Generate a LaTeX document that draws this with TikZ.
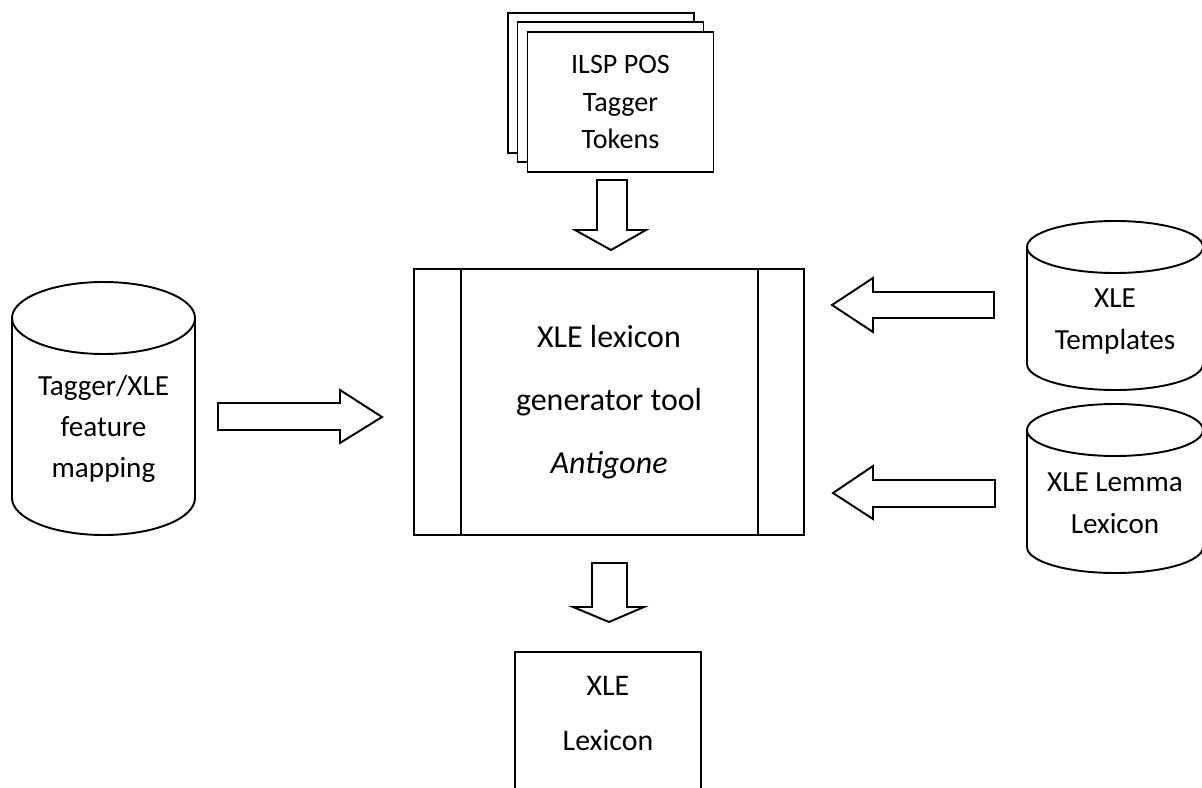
\documentclass[tikz,border=0pt]{standalone}
\usepackage{fontspec}
\setmainfont{Carlito}

\begin{document}
\begin{tikzpicture}[x=0.02cm,y=-0.02cm,line width=1.1pt,
    box/.style={draw,fill=white,rectangle},
    blockarrow/.style={draw,fill=white,line join=miter},
    dbtext/.style={align=center,inner sep=0pt,font=\fontsize{16.6}{23.8}\selectfont}]
    \clip (0,0) rectangle (1202,787);

    % token files (stack of pages)
    \begin{scope}[every node/.style={box,minimum width=3.72cm,minimum height=2.8cm}]
        \node (page3) at (601,83) {};
        \node (page2) at (610.5,92) {};
        \node[align=center,font=\fontsize{16}{21.5}\selectfont] (tokens) at (620.5,102)
            {ILSP POS\\Tagger\\Tokens};
    \end{scope}

    % generator tool
    \node[box,minimum width=7.8cm,minimum height=5.32cm,align=center,
          font=\fontsize{18.2}{35.7}\selectfont] (gen) at (609,402)
        {XLE lexicon\\generator tool\\\textit{Antigone}};
    \draw ([xshift=0.96cm]gen.north west) -- ([xshift=0.96cm]gen.south west);
    \draw ([xshift=-0.94cm]gen.north east) -- ([xshift=-0.94cm]gen.south east);

    % output lexicon
    \node[box,minimum width=3.72cm,minimum height=3cm] (lexbox) at (608,727) {};
    \node[align=center,inner sep=0pt,font=\fontsize{17}{31.2}\selectfont] (lex) at (608,713.5)
        {XLE\\Lexicon};

    % databases
    \draw (12,318) -- (12,498) arc[start angle=180,end angle=0,x radius=91.5,y radius=37] -- (195,318);
    \draw (103.5,318) ellipse [x radius=91.5,y radius=36];
    \node[dbtext,font=\fontsize{16.6}{23.2}\selectfont] (fmap) at (103.5,429)
        {Tagger/XLE\\feature\\mapping};

    \draw (1027,247) -- (1027,364) arc[start angle=180,end angle=0,x radius=88,y radius=26] -- (1203,247);
    \draw (1115,247) ellipse [x radius=88,y radius=26];
    \node[dbtext] (tmpl) at (1115,321.5) {XLE\\Templates};

    \draw (1027,430) -- (1027,547) arc[start angle=180,end angle=0,x radius=88,y radius=26] -- (1203,430);
    \draw (1115,430) ellipse [x radius=88,y radius=26];
    \node[dbtext] (lemma) at (1115,503) {XLE Lemma\\Lexicon};

    % block arrows
    \begin{scope}[every path/.style={blockarrow}]
        \draw (597,180) -- (627,180) -- (627,230) -- (646,230) -- (611,250) -- (575,230) -- (597,230) -- cycle;
        \draw (592,563) -- (627,563) -- (627,607) -- (644,607) -- (609,622) -- (573,607) -- (592,607) -- cycle;
        \draw (218,403) -- (340,403) -- (340,390) -- (382,417) -- (340,443) -- (340,430) -- (218,430) -- cycle;
        \draw (994,292) -- (873,292) -- (873,278) -- (832,305) -- (873,332) -- (873,318) -- (994,318) -- cycle;
        \draw (995,480) -- (873,480) -- (873,466) -- (833,493) -- (873,519) -- (873,507) -- (995,507) -- cycle;
    \end{scope}
\end{tikzpicture}
\end{document}
